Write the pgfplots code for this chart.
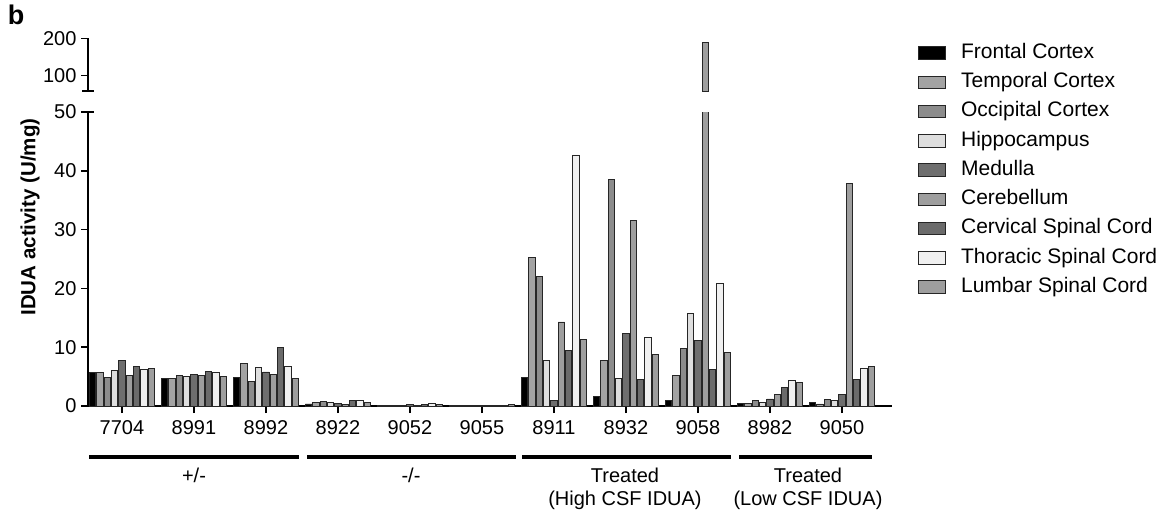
\documentclass[border=0pt]{standalone}
\usepackage{pgfplots}
\usepackage{pgfplotstable}
\pgfplotsset{compat=1.18}
\usepackage{fontspec}
\setmainfont{Liberation Sans}

% bar fills, one per tissue
\definecolor{cFront}{gray}{0.00}
\definecolor{cTemp}{gray}{0.64}
\definecolor{cOcc}{gray}{0.55}
\definecolor{cHip}{gray}{0.87}
\definecolor{cMed}{gray}{0.43}
\definecolor{cCer}{gray}{0.62}
\definecolor{cCerv}{gray}{0.42}
\definecolor{cThor}{gray}{0.94}
\definecolor{cLumb}{gray}{0.62}

% IDUA activity (U/mg) per animal (x = animal index) and tissue
\pgfplotstableread{
x  front temp occ   hip  med  cer    cerv thor lumb
0  5.76  5.70 4.80  6.10 7.70 5.25   6.70 6.25 6.40
1  4.70  4.70 5.20  5.00 5.40 5.25   5.90 5.76 5.10
2  4.85  7.30 4.25  6.55 5.80 5.40   9.95 6.80 4.70
3  0.35  0.55 0.75  0.60 0.45 0.30   0.95 0.95 0.55
4  0.12  0.12 0.12  0.15 0.30 0.15   0.30 0.45 0.30
5  0.10  0.10 0.12  0.10 0.15 0.10   0.12 0.15 0.25
6  4.80  25.3 22.0  7.70 0.90 14.3   9.40 42.7 11.3
7  1.70  7.70 38.5  4.70 12.4 31.5   4.50 11.6 8.80
8  1.00  5.20 9.80  15.8 11.2 189.0  6.20 20.8 9.10
9  0.45  0.40 0.96  0.68 1.20 2.00   3.20 4.35 4.00
10 0.60  0.35 1.07  0.90 2.00 37.85  4.50 6.40 6.80
}\idua

\tikzset{
  bigfont/.style={font=\fontsize{20}{24}\selectfont},
  legfont/.style={font=\fontsize{21}{25}\selectfont},
  organ/.style={fill=#1, draw=black!85, line width=0.8pt},
}
\pgfplotsset{
  every axis/.append style={
    x=72pt, xmin=-0.472, xmax=10.7,
    axis line style={line width=1.6pt, black},
    tick style={line width=1.6pt, black},
    tick align=outside, major tick length=7pt,
    tick label style={bigfont},
    /pgf/number format/assume math mode=true,
    yticklabel style={xshift=-1pt},
  },
}

\begin{document}
\begin{tikzpicture}
\useasboundingbox (0,0) rectangle (1172pt,-522pt);

% lower segment of the broken axis: 0 to 50
\begin{axis}[
  at={(88pt,-406pt)}, anchor=south west,
  y=5.88pt, ymin=0, ymax=50,
  axis x line*=bottom, axis y line*=left,
  ybar=0.93pt, bar width=6.4pt,
  xtick={0,...,10},
  xticklabels={7704,8991,8992,8922,9052,9055,8911,8932,9058,8982,9050},
  xticklabel style={yshift=-4pt},
  ytick={0,10,20,30,40,50},
  extra y ticks={50}, extra y tick labels={},
  extra y tick style={tick align=center, major tick length=12pt},
  legend style={
    at={(1.032,1.236)}, anchor=north west, draw=none, fill=none,
    inner sep=0pt, legfont, row sep=8.75pt, column sep=15pt,
    nodes={inner sep=0pt, text height=15.5pt, text depth=5pt},
  },
  legend cell align=left,
  legend image code/.code={\draw[#1] (0pt,-6.3pt) rectangle (27pt,6.3pt);},
]
\addplot[organ=cFront] table[x=x, y=front]{\idua};
\addplot[organ=cTemp]  table[x=x, y=temp]{\idua};
\addplot[organ=cOcc]   table[x=x, y=occ]{\idua};
\addplot[organ=cHip]   table[x=x, y=hip]{\idua};
\addplot[organ=cMed]   table[x=x, y=med]{\idua};
\addplot[organ=cCer]   table[x=x, y=cer]{\idua};
\addplot[organ=cCerv]  table[x=x, y=cerv]{\idua};
\addplot[organ=cThor]  table[x=x, y=thor]{\idua};
\addplot[organ=cLumb]  table[x=x, y=lumb]{\idua};
\legend{Frontal Cortex, Temporal Cortex, Occipital Cortex, Hippocampus,
  Medulla, Cerebellum, Cervical Spinal Cord, Thoracic Spinal Cord,
  Lumbar Spinal Cord}
\end{axis}

% upper segment of the broken axis: only values above 50 continue here
\begin{axis}[
  at={(88pt,-91pt)}, anchor=south west,
  y=0.37pt, ymin=58, ymax=200,
  axis x line=none, axis y line*=left,
  xtick=\empty,
  ytick={100,200},
  extra y ticks={58}, extra y tick labels={},
  extra y tick style={tick align=center, major tick length=12pt},
]
\addplot[ybar, bar width=6.4pt, bar shift=7.33pt, organ=cCer,
  restrict y to domain=50:1000]
  table[x=x, y=cer]{\idua};
\end{axis}

% panel letter and y label
\node[font=\bfseries\fontsize{27}{30}\selectfont] at (16pt,-15pt) {b};
\node[rotate=90, font=\bfseries\fontsize{20.5}{24}\selectfont] at (30pt,-217pt)
  {IDUA activity (U/mg)};

% genotype / treatment groups
\begin{scope}[line width=3.6pt]
  \draw (89pt,-457pt) -- (299pt,-457pt);
  \draw (307pt,-457pt) -- (516pt,-457pt);
  \draw (522pt,-457pt) -- (731pt,-457pt);
  \draw (739pt,-457pt) -- (872pt,-457pt);
\end{scope}
\begin{scope}[every node/.style={bigfont, align=center, inner sep=0pt}]
  \node at (194pt,-475pt) {+/-};
  \node at (411pt,-475pt) {-/-};
  \node[anchor=north] at (625pt,-468pt) {Treated\\[-1pt](High CSF IDUA)};
  \node[anchor=north] at (808pt,-468pt) {Treated\\[-1pt](Low CSF IDUA)};
\end{scope}
\end{tikzpicture}
\end{document}
